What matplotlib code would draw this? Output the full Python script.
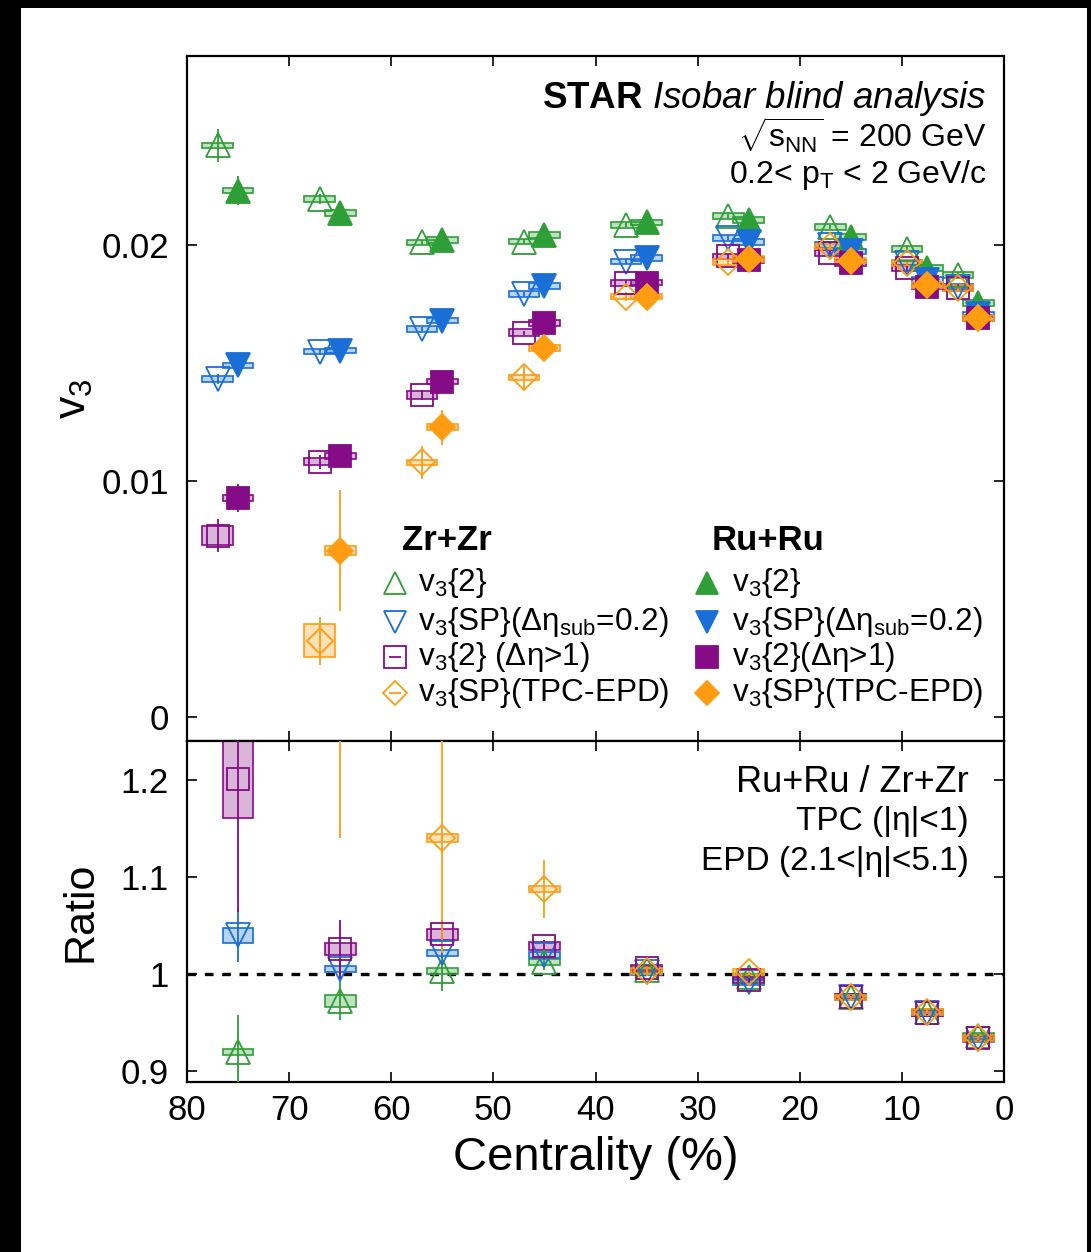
import numpy as np
import matplotlib
matplotlib.use("Agg")
import matplotlib.pyplot as plt
from matplotlib.patches import Rectangle

plt.rcParams.update({
    "font.family": ["Liberation Sans", "DejaVu Sans"],
    "mathtext.fontset": "custom",
    "mathtext.rm": "Liberation Sans",
    "mathtext.it": "Liberation Sans:italic",
    "mathtext.bf": "Liberation Sans:bold",
    "mathtext.sf": "Liberation Sans",
})

# ---------------- data ----------------
# centrality bin centres (%): 70-80, 60-70, ..., 5-10, 0-5
centrality = np.array([75, 65, 55, 45, 35, 25, 15, 7.5, 2.5])

# v3 for Zr+Zr (open symbols) and Ru+Ru (filled symbols)
zr_v3_2 = [0.02421, 0.02195, 0.02010, 0.02014, 0.02085, 0.02123, 0.02076, 0.01983, 0.01873]
ru_v3_2 = [0.02230, 0.02134, 0.02021, 0.02042, 0.02095, 0.02106, 0.02034, 0.01903, 0.01754]
zr_v3_sp = [0.01432, 0.01548, 0.01644, 0.01792, 0.01929, 0.02030, 0.02000, 0.01924, 0.01823]
ru_v3_sp = [0.01489, 0.01552, 0.01679, 0.01826, 0.01943, 0.02012, 0.01972, 0.01850, 0.01705]
zr_v3_gap = [0.00767, 0.01081, 0.01364, 0.01627, 0.01838, 0.01951, 0.01966, 0.01903, 0.01818]
ru_v3_gap = [0.00927, 0.01106, 0.01421, 0.01668, 0.01840, 0.01936, 0.01924, 0.01823, 0.01689]
zr_v3_epd = [np.nan, 0.00322, 0.01078, 0.01438, 0.01781, 0.01927, 0.01993, 0.01922, 0.01816]
ru_v3_epd = [np.nan, 0.00705, 0.01227, 0.01562, 0.01781, 0.01939, 0.01933, 0.01831, 0.01689]

# statistical errors
zr_v3_2_err = [0.0007, 0.0002, 0.0001, 0.0001, 0.0001, 0.0001, 0.0001, 0.0001, 0.0001]
ru_v3_2_err = [0.0006, 0.0002, 0.0001, 0.0001, 0.0001, 0.0001, 0.0001, 0.0001, 0.0001]
zr_v3_sp_err = [0.0002, 0.0001, 0.0001, 0.0001, 0.0001, 0.0001, 0.0001, 0.0001, 0.0001]
ru_v3_sp_err = [0.0002, 0.0001, 0.0001, 0.0001, 0.0001, 0.0001, 0.0001, 0.0001, 0.0001]
zr_v3_gap_err = [0.0007, 0.0003, 0.0002, 0.0001, 0.0001, 0.0001, 0.0001, 0.0001, 0.0001]
ru_v3_gap_err = [0.0006, 0.0003, 0.0002, 0.0001, 0.0001, 0.0001, 0.0001, 0.0001, 0.0001]
zr_v3_epd_err = [np.nan, 0.0010, 0.0007, 0.0005, 0.0002, 0.0001, 0.0001, 0.0001, 0.0001]
ru_v3_epd_err = [np.nan, 0.00255, 0.00074, 0.0003, 0.0002, 0.0001, 0.0001, 0.0001, 0.0001]

# systematic uncertainties (box half-heights)
zr_v3_2_sys = [0.00012] * 9
ru_v3_2_sys = [0.00012] * 9
zr_v3_sp_sys = [0.00012] * 9
ru_v3_sp_sys = [0.00012] * 9
zr_v3_gap_sys = [0.0004, 0.00015, 0.00015, 0.00015, 0.00012, 0.00012, 0.00012, 0.00012, 0.00012]
ru_v3_gap_sys = [0.00012] * 9
zr_v3_epd_sys = [np.nan, 0.0007, 0.00012, 0.00012, 0.00012, 0.00012, 0.00012, 0.00012, 0.00012]
ru_v3_epd_sys = [np.nan, 0.0002, 0.00012, 0.00012, 0.00012, 0.00012, 0.00012, 0.00012, 0.00012]

# Ru+Ru / Zr+Zr ratios
ratio_v3_2 = [0.9195, 0.9726, 1.003, 1.0127, 1.004, 0.997, 0.977, 0.961, 0.936]
ratio_v3_sp = [1.040, 1.005, 1.022, 1.0195, 1.002, 0.992, 0.976, 0.960, 0.933]
ratio_v3_gap = [1.201, 1.026, 1.041, 1.029, 1.006, 0.994, 0.977, 0.960, 0.934]
ratio_v3_epd = [np.nan, 1.50, 1.140, 1.088, 1.003, 1.002, 0.976, 0.961, 0.934]

ratio_v3_2_err = [0.038, 0.020, 0.020, 0.008, 0.003, 0.002, 0.002, 0.002, 0.002]
ratio_v3_sp_err = [0.027, 0.010, 0.008, 0.005, 0.003, 0.002, 0.002, 0.002, 0.002]
ratio_v3_gap_err = [0.137, 0.030, 0.015, 0.006, 0.003, 0.002, 0.002, 0.002, 0.002]
ratio_v3_epd_err = [np.nan, 0.36, 0.118, 0.030, 0.005, 0.003, 0.002, 0.002, 0.002]

ratio_v3_2_sys = [0.003, 0.0063, 0.003, 0.003, 0.003, 0.003, 0.003, 0.003, 0.003]
ratio_v3_sp_sys = [0.008, 0.003, 0.003, 0.003, 0.003, 0.003, 0.003, 0.003, 0.003]
ratio_v3_gap_sys = [0.040, 0.006, 0.006, 0.004, 0.003, 0.003, 0.003, 0.003, 0.003]
ratio_v3_epd_sys = [np.nan, 0.004, 0.004, 0.003, 0.003, 0.003, 0.003, 0.003, 0.003]

zr_labels = [r"v$_3${2}", r"v$_3${SP}(Δη$_\mathrm{sub}$=0.2)",
             r"v$_3${2} (Δη>1)", r"v$_3${SP}(TPC-EPD)"]
ru_labels = [r"v$_3${2}", r"v$_3${SP}(Δη$_\mathrm{sub}$=0.2)",
             r"v$_3${2}(Δη>1)", r"v$_3${SP}(TPC-EPD)"]

# ---------------- styles ----------------
GREEN = "#2e9e36"
BLUE = "#1a6fd6"
PURPLE = "#860b86"
ORANGE = "#ff9c12"
colors = [GREEN, BLUE, PURPLE, ORANGE]
markers = ["^", "v", "s", "D"]
msizes = [17, 17, 16, 13]
ZR_SHIFT = 2.0      # Zr+Zr points drawn slightly to the peripheral side
BOX_HALF = 1.5      # half-width of systematic boxes in centrality units


def draw_series(ax, x, y, err, sys, color, marker, ms, filled):
    x = np.asarray(x, float)
    y = np.asarray(y, float)
    err = np.asarray(err, float)
    sys = np.asarray(sys, float)
    ok = ~np.isnan(y)
    for xi, yi, si in zip(x[ok], y[ok], sys[ok]):
        ax.add_patch(Rectangle((xi - BOX_HALF, yi - si), 2 * BOX_HALF, 2 * si,
                               facecolor=color, alpha=0.3, edgecolor="none", zorder=2))
        ax.add_patch(Rectangle((xi - BOX_HALF, yi - si), 2 * BOX_HALF, 2 * si,
                               facecolor="none", edgecolor=color, lw=1.2, zorder=2))
    ax.errorbar(x[ok], y[ok], yerr=err[ok], fmt="none", ecolor=color,
                elinewidth=1.3, capsize=0, zorder=3)
    ax.plot(x[ok], y[ok], ls="none", marker=marker, ms=ms,
            mfc=color if filled else "none", mec=color, mew=1.3, zorder=4)


fig = plt.figure(figsize=(10.91, 12.52), dpi=100)
fig.patch.set_facecolor("black")
fig.patches.append(Rectangle((21 / 1091, 0), (1087 - 21) / 1091, 1 - 8 / 1252,
                             transform=fig.transFigure, facecolor="white",
                             edgecolor="none", zorder=-10))

left, width = 187 / 1091, (1004 - 187) / 1091
ax1 = fig.add_axes([left, 1 - 741 / 1252, width, (741 - 56) / 1252])
ax2 = fig.add_axes([left, 1 - 1082 / 1252, width, (1082 - 741) / 1252], sharex=ax1)

zr_sets = [(zr_v3_2, zr_v3_2_err, zr_v3_2_sys), (zr_v3_sp, zr_v3_sp_err, zr_v3_sp_sys),
           (zr_v3_gap, zr_v3_gap_err, zr_v3_gap_sys), (zr_v3_epd, zr_v3_epd_err, zr_v3_epd_sys)]
ru_sets = [(ru_v3_2, ru_v3_2_err, ru_v3_2_sys), (ru_v3_sp, ru_v3_sp_err, ru_v3_sp_sys),
           (ru_v3_gap, ru_v3_gap_err, ru_v3_gap_sys), (ru_v3_epd, ru_v3_epd_err, ru_v3_epd_sys)]
ratio_sets = [(ratio_v3_2, ratio_v3_2_err, ratio_v3_2_sys),
              (ratio_v3_sp, ratio_v3_sp_err, ratio_v3_sp_sys),
              (ratio_v3_gap, ratio_v3_gap_err, ratio_v3_gap_sys),
              (ratio_v3_epd, ratio_v3_epd_err, ratio_v3_epd_sys)]

for (y, e, s), c, m, ms in zip(zr_sets, colors, markers, msizes):
    draw_series(ax1, centrality + ZR_SHIFT, y, e, s, c, m, ms, filled=False)
for (y, e, s), c, m, ms in zip(ru_sets, colors, markers, msizes):
    draw_series(ax1, centrality, y, e, s, c, m, ms, filled=True)
for (y, e, s), c, m, ms in zip(ratio_sets, colors, markers, msizes):
    draw_series(ax2, centrality, y, e, s, c, m, ms, filled=False)

ax2.axhline(1.0, color="black", lw=2.4, ls=(0, (2.6, 2.6)), zorder=1)

# ---------------- axes ----------------
ax1.set_xlim(80, 0)
ax1.set_ylim(-0.00102, 0.028)
ax2.set_ylim(0.889, 1.24)
ax1.set_xticks(np.arange(80, -1, -10))
ax1.set_yticks([0, 0.01, 0.02])
ax1.set_yticklabels(["0", "0.01", "0.02"])
ax2.set_yticks([0.9, 1.0, 1.1, 1.2])
ax2.set_yticklabels(["0.9", "1", "1.1", "1.2"])

for ax in (ax1, ax2):
    ax.tick_params(direction="in", length=7, width=1.2, top=True, right=True,
                   labelsize=25, colors="black")
    ax.tick_params(axis="y", pad=13)
    ax.tick_params(axis="x", pad=9)
    for sp in ax.spines.values():
        sp.set_linewidth(1.6)
ax1.tick_params(labelbottom=False)

ax1.set_ylabel(r"v$_3$", fontsize=32)
ax2.set_ylabel("Ratio", fontsize=31)
ax2.set_xlabel("Centrality (%)", fontsize=34, labelpad=6)
ax1.yaxis.set_label_coords(-0.112, 0.5)
ax2.yaxis.set_label_coords(-0.106, 0.5)

# ---------------- annotations ----------------
ax1.text(0.979, 0.924, r"$\mathbf{STAR}$ $\mathit{Isobar\ blind\ analysis}$",
         transform=ax1.transAxes, ha="right", va="baseline", fontsize=26.5)
ax1.text(0.979, 0.8657, r"$\sqrt{\mathrm{s_{NN}}}$ = 200 GeV",
         transform=ax1.transAxes, ha="right", va="baseline", fontsize=23)
ax1.text(0.979, 0.8146, r"0.2< p$_\mathrm{T}$ < 2 GeV/c",
         transform=ax1.transAxes, ha="right", va="baseline", fontsize=23)

ax2.text(0.957, 0.8504, "Ru+Ru / Zr+Zr", transform=ax2.transAxes,
         ha="right", va="baseline", fontsize=26)
ax2.text(0.957, 0.739, "TPC (|η|<1)", transform=ax2.transAxes,
         ha="right", va="baseline", fontsize=24)
ax2.text(0.957, 0.6217, "EPD (2.1<|η|<5.1)", transform=ax2.transAxes,
         ha="right", va="baseline", fontsize=24)

# legend blocks
rows_y = [0.2307, 0.1737, 0.1226, 0.0701]
ax1.text(0.318, 0.2934, "Zr+Zr", transform=ax1.transAxes, ha="center",
         va="center", fontsize=25, fontweight="bold")
ax1.text(0.711, 0.2934, "Ru+Ru", transform=ax1.transAxes, ha="center",
         va="center", fontsize=25, fontweight="bold")
for ry, lab_zr, lab_ru, c, m, ms in zip(rows_y, zr_labels, ru_labels, colors, markers, msizes):
    ax1.plot([0.2546], [ry], transform=ax1.transAxes, marker=m, ms=ms * 0.95,
             mfc="none", mec=c, mew=1.3, ls="none", clip_on=False)
    if m in ("s", "D"):
        ax1.plot([0.2546], [ry], transform=ax1.transAxes, marker="_", ms=8,
                 mec=c, mew=1.3, ls="none", clip_on=False)
    ax1.text(0.2827, ry, lab_zr, transform=ax1.transAxes, ha="left",
             va="center", fontsize=22.7)
    ax1.plot([0.6365], [ry], transform=ax1.transAxes, marker=m, ms=ms * 0.95,
             mfc=c, mec=c, mew=1.3, ls="none", clip_on=False)
    ax1.text(0.667, ry, lab_ru, transform=ax1.transAxes, ha="left",
             va="center", fontsize=22.7)

fig.savefig("out.png", dpi=100, facecolor=fig.get_facecolor())
